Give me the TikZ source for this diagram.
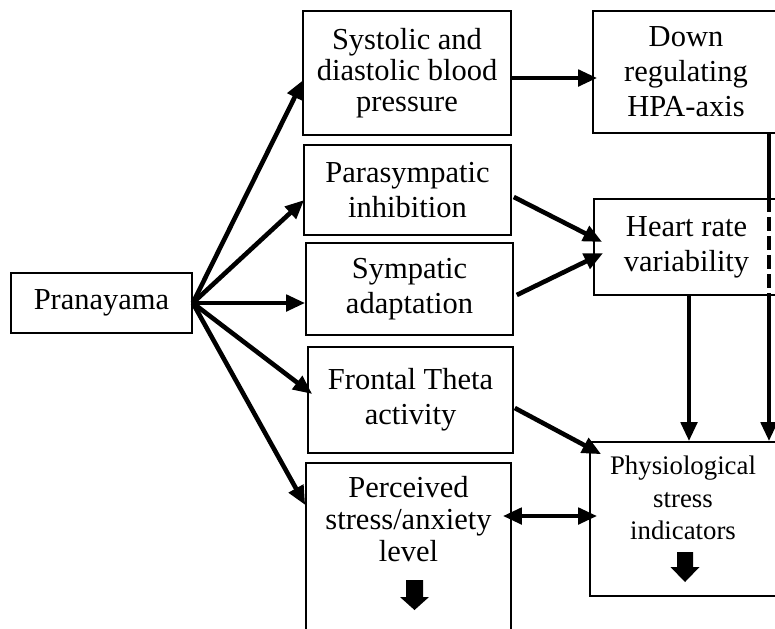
\documentclass[tikz,border=0pt]{standalone}
\usepackage{fontspec}
\setmainfont{Liberation Serif}
\usetikzlibrary{arrows.meta,calc}
\begin{document}
\begin{tikzpicture}[x=0.5pt,y=-0.5pt,
  box/.style={draw, line width=0.8pt, rectangle, inner sep=0pt, align=center,
    font=\fontsize{15.25}{17.5}\selectfont},
  txt/.style={inner sep=0pt, align=center},
  arr/.style={line width=2.3pt, -{Triangle[length=9.5pt,width=8pt]}},
  darr/.style={line width=2.3pt, {Triangle[length=9.5pt,width=8pt]}-{Triangle[length=9.5pt,width=8pt]}},
  vline/.style={line width=2.3pt},
]
\useasboundingbox (0,0) rectangle (775,628);
\fill[white] (0,0) rectangle (775,628);
\clip (0,0) rectangle (775,628);

% nodes
\node[box, minimum width=90.5pt, minimum height=30pt] (pran) at (101.5,303) {Pranayama};
\node[box, minimum width=104pt, minimum height=62pt, font=\fontsize{15.25}{15.5}\selectfont] (sys) at (407,73) {Systolic and\\diastolic blood\\pressure};
\node[box, minimum width=93pt, minimum height=61pt] (hpa) at (686,72) {Down\\regulating\\HPA-axis};
\node[box, minimum width=103.5pt, minimum height=45pt] (para) at (407.5,190) {Parasympatic\\inhibition};
\node[box, minimum width=103.5pt, minimum height=46pt] (symp) at (409.5,289) {Sympatic\\adaptation};
\node[box, minimum width=102.5pt, minimum height=53pt] (front) at (410.5,400) {Frontal Theta\\activity};
\node[box, minimum width=102.5pt, minimum height=93.5pt] (perc) at (408.5,556.5) {};
\node[txt, font=\fontsize{15.25}{16}\selectfont] (perctext) at (408.5,519.5) {Perceived\\stress/anxiety\\level};
\node[box, minimum width=92.5pt, minimum height=48pt] (hrv) at (686.5,247) {Heart rate\\variability};
\node[box, minimum width=94pt, minimum height=77pt] (phys) at (684,519) {};
\node[txt, font=\fontsize{13.4}{16.25}\selectfont] (phystext) at (683,498) {Physiological\\stress\\indicators};

% block arrows inside boxes
\fill (406,580) -- (423,580) -- (423,597) -- (429,597) -- (414.5,610) -- (400,597) -- (406,597) -- cycle;
\fill (677,552) -- (693,552) -- (693,567) -- (699.5,567) -- (685,582) -- (670.5,567) -- (677,567) -- cycle;

% connectors from Pranayama
\draw[arr] (pran.east) -- ($(sys.west)+(1,7)$);
\draw[arr] (pran.east) -- ($(para.west)+(1,10)$);
\draw[arr] (pran.east) -- ($(symp.west)+(0,14)$);
\draw[arr] (pran.east) -- ($(front.west)+(5,-6)$);
\draw[arr] (pran.east) -- ($(perc.west)+(0,-51.5)$);

% other connectors
\draw[arr] ($(sys.east)+(0,5)$) -- ($(hpa.west)+(5,6)$);
\draw[arr] ($(para.east)+(2,7)$) -- ($(hrv.west)+(9,-5)$);
\draw[arr] ($(symp.east)+(3,6)$) -- ($(hrv.west)+(10,6)$);
\draw[arr] ($(front.east)+(1,8)$) -- ($(phys.north west)+(12,13)$);
\draw[darr] ($(perc.east)+(-9,-40.5)$) -- ($(phys.west)+(8,-3)$);

\coordinate (hx1) at (689,0);
\coordinate (hx2) at (769,0);
\draw[arr] (hrv.south -| hx1) -- (phys.north -| hx1);
\draw[vline] (hpa.south -| hx2) -- (hrv.north -| hx2);
\draw[vline, dash pattern=on 7pt off 2.5pt] (hrv.north -| hx2) -- (hrv.south -| hx2);
\draw[arr] (hrv.south -| hx2) -- (phys.north -| hx2);
\end{tikzpicture}
\end{document}
